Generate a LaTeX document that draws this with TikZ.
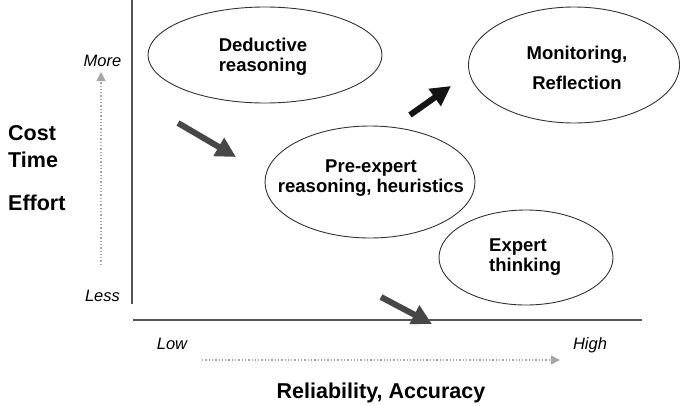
\documentclass[tikz,border=0pt]{standalone}
\usepackage{fontspec}
\setmainfont{Liberation Sans}
\usetikzlibrary{shapes.geometric,arrows.meta}

\tikzset{
  bubble/.style={ellipse, draw=black!80, line width=0.9pt, inner sep=0pt},
  bubbletext/.style={font=\bfseries\fontsize{18.5}{20}\selectfont, align=center, inner sep=0pt},
  sidelabel/.style={font=\bfseries\fontsize{21.5}{24}\selectfont, anchor=base west, inner sep=0pt},
  scalelabel/.style={font=\itshape\fontsize{16.5}{18}\selectfont, anchor=base, inner sep=0pt},
  titlelabel/.style={font=\bfseries\fontsize{21.5}{24}\selectfont, anchor=base, inner sep=0pt},
  axisline/.style={draw=black!67, line width=2.8pt},
  trend/.style={line width=6pt, -{Triangle[length=20pt,width=20pt]}},
  guide/.style={draw=black!35, line width=1.3pt, dotted,
    -{Triangle[length=9pt,width=9pt,fill=black!35]}},
}

\begin{document}
\begin{tikzpicture}[x=1pt,y=-1pt]
\useasboundingbox (0,0) rectangle (680,405);

% axes
\coordinate (ytop) at (132,0);
\coordinate (ybot) at (132,304);
\coordinate (xleft) at (133,320);
\coordinate (xright) at (642,320);
\draw[axisline] (ytop) -- (ybot);
\draw[axisline] (xleft) -- (xright);

% dotted direction guides
\coordinate (vg0) at (101,265);
\coordinate (vg1) at (101,72);
\draw[guide] (vg0) -- (vg1);
\coordinate (hg0) at (202,360);
\coordinate (hg1) at (560,360);
\draw[guide] (hg0) -- (hg1);

% scale words
\node[scalelabel] (more) at (102.5,66) {More};
\node[scalelabel] (less) at (102.5,301) {Less};
\node[scalelabel] (low)  at (172,349) {Low};
\node[scalelabel] (high) at (590,349) {High};

% axis titles
\node[sidelabel] (cost)   at (8,140) {Cost};
\node[sidelabel] (time)   at (8,167) {Time};
\node[sidelabel] (effort) at (8,210) {Effort};
\node[titlelabel] (relacc) at (381,398) {Reliability, Accuracy};

% bubbles
\node[bubble, minimum width=234pt, minimum height=96pt]  (ded) at (265,55) {};
\node[bubble, minimum width=211pt, minimum height=116pt] (mon) at (574,65) {};
\node[bubble, minimum width=210pt, minimum height=112pt] (pre) at (370,182) {};
\node[bubble, minimum width=174pt, minimum height=95pt]  (exp) at (526,257.5) {};

\node[bubbletext] (dedtext) at (263,57) {Deductive\\reasoning};
\node[bubbletext] (montext) at (577,68) {Monitoring,\\[10pt]Reflection};
\node[bubbletext] (pretext) at (371,178.5) {Pre-expert\\reasoning, heuristics};
\node[bubbletext, align=left, anchor=west] (exptext) at (489,257.5) {Expert\\thinking};

% trend arrows
\coordinate (t1s) at (178,123);
\coordinate (t1e) at (236,157);
\coordinate (t2s) at (410,115);
\coordinate (t2e) at (451,86);
\coordinate (t3s) at (381,297);
\coordinate (t3e) at (432,324);
\draw[trend, draw=black!72, fill=black!72] (t1s) -- (t1e);
\draw[trend, draw=black!92, fill=black!92] (t2s) -- (t2e);
\draw[trend, draw=black!72, fill=black!72] (t3s) -- (t3e);
\end{tikzpicture}
\end{document}
